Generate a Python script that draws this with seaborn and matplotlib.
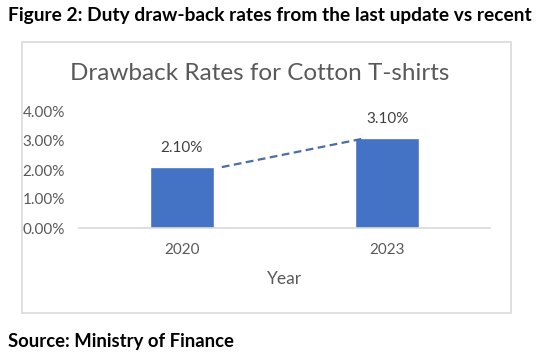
import matplotlib
matplotlib.use("Agg")
from matplotlib import pyplot as plt
from matplotlib.patches import Rectangle
from matplotlib.ticker import PercentFormatter
import pandas as pd
import seaborn as sns

years = ["2020", "2023"]
rates = [2.10, 3.10]
y_ticks = [0, 1, 2, 3, 4]

BAR_COLOR = "#4472C4"
TEXT_COLOR = "#595959"

sns.set_style("white")
plt.rcParams['font.family'] = ['Lato', 'DejaVu Sans']

df = pd.DataFrame({"Year": years, "Rate": rates})

fig = plt.figure(figsize=(5.48, 3.61), dpi=100)
ax = fig.add_axes([79 / 548, 1 - 228 / 361, 411 / 548, 116 / 361])

bar_width = 0.31
sns.barplot(data=df, x="Year", y="Rate", color=BAR_COLOR, width=bar_width,
            saturation=1, ax=ax)

# dashed series line between the bar tops
ax.plot([0 + bar_width / 2 + 0.04, 1 - bar_width / 2 + 0.05], rates,
        linestyle=(0, (3.5, 2)), color="#4A6DAA", linewidth=1.6)

ax.bar_label(ax.containers[0], labels=[f"{v:.2f}%" for v in rates],
             padding=9, fontsize=11, color="#404040")

ax.set_ylim(0, 4)
ax.set_xlim(-0.5, 1.5)
ax.set_yticks(y_ticks)
ax.yaxis.set_major_formatter(PercentFormatter(decimals=2))
ax.tick_params(axis="both", length=0, labelsize=11, labelcolor=TEXT_COLOR)
ax.tick_params(axis="x", pad=11)
ax.tick_params(axis="y", pad=10)
ax.set_ylabel("")
ax.set_xlabel("Year", fontsize=12.5, color=TEXT_COLOR, labelpad=10)
for side in ["top", "right", "left"]:
    ax.spines[side].set_visible(False)
ax.spines["bottom"].set_color("#D9D9D9")
ax.spines["bottom"].set_linewidth(1.2)

# chart frame
fig.patches.append(Rectangle((22 / 548, 1 - 313 / 361), 489 / 548, 271 / 361,
                             transform=fig.transFigure, fill=False,
                             edgecolor="#D9D9D9", linewidth=1.2))

fig.text(260 / 548, 1 - 73 / 361, "Drawback Rates for Cotton T-shirts",
         ha="center", va="center", fontsize=17.5, color=TEXT_COLOR)
fig.text(8 / 548, 1 - 15 / 361,
         "Figure 2: Duty draw-back rates from the last update vs recent",
         ha="left", va="center", fontsize=13.8, fontweight="bold", color="black")
fig.text(8 / 548, 1 - 341 / 361, "Source: Ministry of Finance",
         ha="left", va="center", fontsize=13.3, fontweight="bold", color="black")

fig.savefig("out.png", dpi=100)
